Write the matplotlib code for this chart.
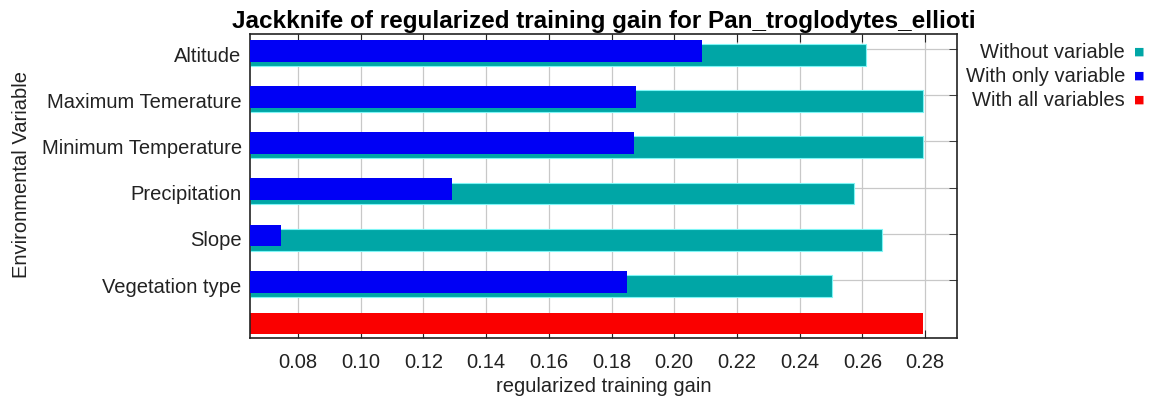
import numpy as np
import matplotlib.pyplot as plt



# Jackknife values
variables = ["Altitude", "Maximum Temerature", "Minimum Temperature",
             "Precipitation", "Slope", "Vegetation type"]
without_variable = [0.2612, 0.2792, 0.2792, 0.2572, 0.2663, 0.2502]
with_only_variable = [0.2090, 0.1879, 0.1873, 0.1290, 0.0745, 0.1848]
with_all_variables = 0.2792

legend_labels = ["Without variable", "With only variable", "With all variables"]
xticks = [0.08, 0.10, 0.12, 0.14, 0.16, 0.18, 0.20, 0.22, 0.24, 0.26, 0.28]



plt.rcParams['font.family'] = ['Liberation Sans', 'DejaVu Sans']

teal = "#00a6a6"
blue = "#0000f5"
red = "#fa0000"
colors = [teal, blue, red]

fig = plt.figure(figsize=(11.51, 4.02), dpi=100)
ax = fig.add_axes([0.2172, 0.1555, 0.6143, 0.7575])

y = np.arange(len(variables))
x0 = 0.0647

# bars start at the left edge of the plot, like the MaxEnt output
ax.barh(y + 0.13, np.array(without_variable) - x0, left=x0, height=0.47,
        color=teal, edgecolor="#7ff5f5", linewidth=0.8, zorder=2)
ax.barh(y + 0.04, np.array(with_only_variable) - x0, left=x0, height=0.47,
        color=blue, linewidth=0, zorder=3)
ax.barh([5.95], [with_all_variables - x0], left=x0, height=0.45,
        color=red, linewidth=0, zorder=2)

ax.set_xlim(x0, 0.2902)
ax.set_ylim(6.27, -0.325)

ax.set_xticks(xticks)
ax.set_xticklabels([f"{v:.2f}" for v in xticks])
ax.tick_params(axis='x', direction='in', top=True, bottom=True, length=6,
               labelsize=14.5, pad=10, color="#222222", labelcolor="#222222")

# labels sit between the two bars, tick marks sit on the right
ax.set_yticks(y + 0.09)
ax.set_yticklabels(variables)
ax.tick_params(axis='y', which='major', length=0, labelsize=14.5, pad=6,
               labelcolor="#222222")
ax.set_yticks(y, minor=True)
ax.tick_params(axis='y', which='minor', left=False, right=True,
               direction='in', length=6, color="#222222")

ax.grid(True, axis='x', which='major', color="#c8c8c8", linewidth=0.9, zorder=0)
ax.grid(True, axis='y', which='minor', color="#c8c8c8", linewidth=0.9, zorder=0)
ax.set_axisbelow(True)

for s in ax.spines.values():
    s.set_color("#222222")
    s.set_linewidth(1.2)

ax.set_xlabel("regularized training gain", fontsize=14.5, labelpad=3,
              color="#222222")
ax.set_title("Jackknife of regularized training gain for Pan_troglodytes_ellioti",
             fontsize=17.5, fontweight="bold", pad=5)
fig.text(22 / 1151, 1 - 175 / 402, "Environmental Variable", rotation=90,
         ha="center", va="center", fontsize=14.5, color="#222222")



# legend on the right, text right-aligned with a small square after it
for i, (lab, c) in enumerate(zip(legend_labels, colors)):
    yy = 1 - (53 + 24 * i) / 402
    fig.text(1125 / 1151, yy, lab, ha="right", va="center", fontsize=14.5,
             color="#222222")
    fig.text(1139 / 1151, yy + 0.004, "\u25a0", ha="center", va="center",
             fontsize=8, color=c, family="DejaVu Sans")

fig.savefig("out.png", dpi=100)
